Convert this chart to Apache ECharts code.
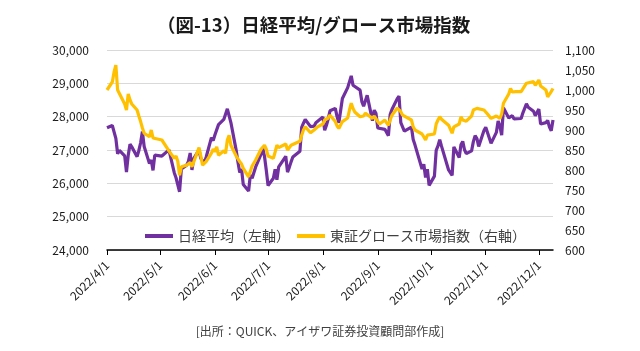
<!DOCTYPE html>
<html>
<head>
<meta charset="utf-8">
<script src="https://cdn.jsdelivr.net/npm/echarts@6/dist/echarts.min.js"></script>
<style>
  html, body { margin: 0; padding: 0; background: #fff; }
  #chart { width: 640px; height: 351px; }
</style>
</head>
<body>
<div id="chart"></div>
<script>
// 営業日 (2022年, 月/日)
var days = [
  '4/1','4/4','4/5','4/6','4/7','4/8','4/11','4/12','4/13','4/14','4/15','4/18','4/19','4/20','4/21','4/22','4/25','4/26','4/27','4/28',
  '5/2','5/6','5/9','5/10','5/11','5/12','5/13','5/16','5/17','5/18','5/19','5/20','5/23','5/24','5/25','5/26','5/27','5/30','5/31',
  '6/1','6/2','6/3','6/6','6/7','6/8','6/9','6/10','6/13','6/14','6/15','6/16','6/17','6/20','6/21','6/22','6/23','6/24','6/27','6/28','6/29','6/30',
  '7/1','7/4','7/5','7/6','7/7','7/8','7/11','7/12','7/13','7/14','7/15','7/19','7/20','7/21','7/22','7/25','7/26','7/27','7/28','7/29',
  '8/1','8/2','8/3','8/4','8/5','8/8','8/9','8/10','8/12','8/15','8/16','8/17','8/18','8/19','8/22','8/23','8/24','8/25','8/26','8/29','8/30','8/31',
  '9/1','9/2','9/5','9/6','9/7','9/8','9/9','9/12','9/13','9/14','9/15','9/16','9/20','9/21','9/22','9/26','9/27','9/28','9/29','9/30',
  '10/3','10/4','10/5','10/6','10/7','10/11','10/12','10/13','10/14','10/17','10/18','10/19','10/20','10/21','10/24','10/25','10/26','10/27','10/28','10/31',
  '11/1','11/2','11/4','11/7','11/8','11/9','11/10','11/11','11/14','11/15','11/16','11/17','11/18','11/21','11/22','11/24','11/25','11/28','11/29','11/30',
  '12/1','12/2','12/5','12/6','12/7','12/8','12/9'
];

// 日経平均（左軸）
var nikkei = [
  27666,27736,27787,27350,26889,26986,26822,26335,26844,27173,27094,26800,26986,27218,27553,27106,26591,26700,26387,26848,
  26818,27004,26319,26167,26214,25748,26428,26547,26660,26911,26403,26739,27002,26749,26678,26605,26782,27370,27280,
  27458,27413,27762,27916,27944,28234,28247,27824,26988,26630,26327,26432,25963,25771,26246,26150,26171,26491,26872,27050,26805,26393,
  25936,26153,26423,26108,26491,26517,26812,26337,26479,26644,26788,26962,27681,27804,27915,27700,27655,27716,27816,27802,
  27994,27595,27742,27933,28176,28249,28000,27819,28547,28872,28869,29223,28942,28930,28795,28453,28314,28480,28641,27879,28196,28092,
  27661,27651,27620,27627,27431,28066,28215,28542,28614,27819,27876,27568,27689,27314,27154,26432,26572,26174,26423,25937,
  26216,26992,27121,27312,27116,26401,26397,26238,27091,26776,27156,27257,27007,26891,26974,27250,27432,27346,27105,27587,
  27679,27663,27200,27528,27872,27716,27446,28264,27963,27990,28029,27931,27900,27945,28115,28384,28283,28163,28028,27969,
  28227,27778,27821,27886,27686,27575,27901
];

// 東証グロース市場指数（右軸）
var growth = [
  1000,1020,1045,1062,1000,996,965,950,990,975,965,950,935,921,905,892,883,900,880,883,
  875,848,829,835,822,787,808,812,815,819,808,820,856,835,812,810,821,842,852,
  846,858,837,848,842,875,887,862,835,828,821,815,804,783,781,810,815,825,852,856,862,852,
  835,829,845,862,856,854,865,850,855,862,862,872,887,900,908,893,896,900,904,908,
  915,925,921,930,937,921,910,904,921,930,950,967,954,945,933,933,935,942,946,929,935,937,
  921,915,925,918,912,925,937,955,958,946,937,933,925,908,900,890,883,875,887,883,
  890,915,925,933,927,912,908,892,908,915,933,925,921,922,935,950,954,954,952,950,
  950,940,929,935,937,929,940,967,990,1004,995,992,996,996,1000,1017,1019,1021,1012,1018,
  1025,1010,1000,983,985,996,1004
];

// 目盛り（月初）
var monthTicks = ['4/1','5/1','6/1','7/1','8/1','9/1','10/1','11/1','12/1'];

function toTime(md) {
  var p = md.split('/');
  return new Date(2022, +p[0] - 1, +p[1]).getTime();
}
var tickTimes = monthTicks.map(toTime);
var nikkeiData = days.map(function (d, i) { return [toTime(d), nikkei[i]]; });
var growthData = days.map(function (d, i) { return [toTime(d), growth[i]]; });

var FONT = '"Noto Sans CJK JP", "Noto Sans", sans-serif';

var myChart = echarts.init(document.getElementById('chart'));
myChart.setOption({
  backgroundColor: '#ffffff',
  animation: false,
  textStyle: { fontFamily: FONT },
  title: [
    {
      text: '（図-13）日経平均/グロース市場指数',
      left: 152,
      top: 11,
      textStyle: { fontSize: 18.5, fontWeight: 'bold', color: '#1a1a1a', fontFamily: FONT }
    },
    {
      text: '[出所：QUICK、アイザワ証券投資顧問部作成]',
      left: 'center',
      top: 320,
      textStyle: { fontSize: 12, fontWeight: 'normal', color: '#404040', fontFamily: FONT }
    }
  ],
  legend: {
    left: 140,
    top: 224,
    itemWidth: 28,
    itemHeight: 4,
    itemGap: 7,
    icon: 'rect',
    textStyle: { fontSize: 14, color: '#404040', fontFamily: FONT },
    data: ['日経平均（左軸）', '東証グロース市場指数（右軸）']
  },
  grid: { left: 107, right: 87, top: 50, bottom: 101 },
  xAxis: {
    type: 'value',
    min: toTime('4/1'),
    max: toTime('12/9'),
    axisLine: { lineStyle: { color: '#000', width: 1.5 } },
    axisTick: { show: true, length: 5, customValues: tickTimes, lineStyle: { color: '#000' } },
    splitLine: { show: false },
    axisLabel: {
      customValues: tickTimes,
      rotate: 45,
      fontSize: 12,
      color: '#1a1a1a',
      margin: 13,
      formatter: function (v) {
        var d = new Date(v);
        return d.getFullYear() + '/' + (d.getMonth() + 1) + '/' + d.getDate();
      }
    }
  },
  yAxis: [
    {
      type: 'value',
      min: 24000,
      max: 30000,
      interval: 1000,
      axisLine: { show: false },
      axisTick: { show: false },
      splitLine: { lineStyle: { color: '#d9d9d9', width: 1 } },
      axisLabel: {
        fontSize: 12,
        color: '#1a1a1a',
        margin: 18,
        formatter: function (v) { return v.toLocaleString('en-US'); }
      }
    },
    {
      type: 'value',
      min: 600,
      max: 1100,
      interval: 50,
      axisLine: { show: false },
      axisTick: { show: false },
      splitLine: { show: false },
      axisLabel: {
        fontSize: 12,
        color: '#1a1a1a',
        margin: 12,
        formatter: function (v) { return v.toLocaleString('en-US'); }
      }
    }
  ],
  series: [
    {
      name: '日経平均（左軸）',
      type: 'line',
      yAxisIndex: 0,
      data: nikkeiData,
      showSymbol: false,
      lineStyle: { color: '#7030A0', width: 3.2 },
      itemStyle: { color: '#7030A0' },
      z: 2
    },
    {
      name: '東証グロース市場指数（右軸）',
      type: 'line',
      yAxisIndex: 1,
      data: growthData,
      showSymbol: false,
      lineStyle: { color: '#FFC000', width: 3.2 },
      itemStyle: { color: '#FFC000' },
      z: 3
    }
  ]
});
</script>
</body>
</html>
